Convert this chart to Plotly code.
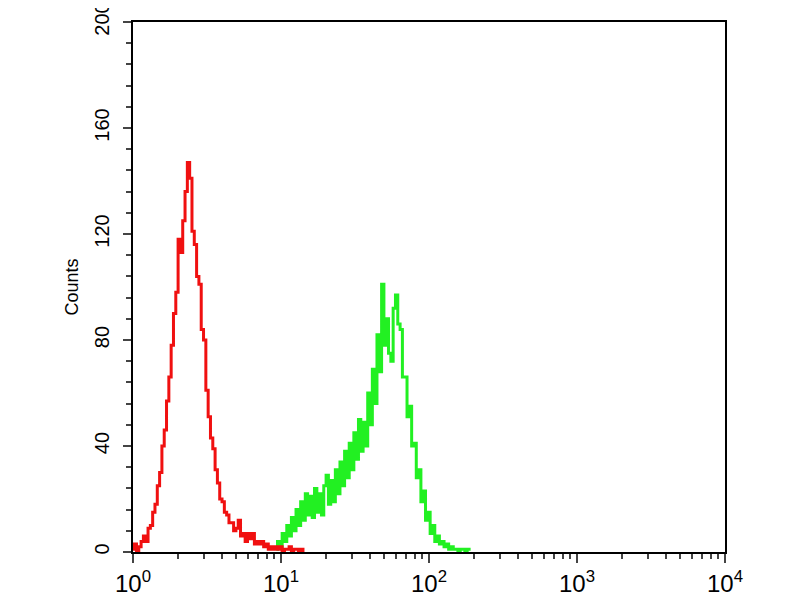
import plotly.graph_objects as go

# log amplifier: 256 channels over 4 decades
CHANNELS_PER_DECADE = 64

RED_FIRST_CHANNEL = 0
RED_COUNTS = [
    1, 3, 0, 2, 4, 6, 4, 9, 10, 15,
    18, 25, 30, 40, 46, 57, 66, 78, 90, 98,
    118, 113, 125, 136, 147, 141, 121, 116, 104, 101,
    84, 80, 61, 51, 43, 39, 31, 26, 20, 19,
    15, 14, 11, 11, 8, 9, 12, 6, 7, 4,
    7, 5, 7, 3, 4, 3, 4, 2, 3, 1,
    2, 1, 2, 1, 2, 0, 1, 1, 2, 0,
    1, 1, 0, 1, 0,
]

GREEN_FIRST_CHANNEL = 62
GREEN_COUNTS = [
    1, 4, 2, 7, 4, 10, 6, 13, 8, 16,
    10, 19, 12, 22, 14, 21, 13, 24, 15, 22,
    14, 25, 29, 18, 27, 19, 31, 22, 34, 25,
    38, 28, 41, 31, 45, 35, 50, 38, 49, 40,
    60, 48, 69, 56, 82, 68, 101, 78, 88, 75,
    72, 92, 97, 86, 84, 66, 66, 51, 55, 40,
    41, 28, 31, 19, 23, 12, 15, 7, 10, 4,
    6, 3, 4, 2, 3, 1, 2, 1, 1, 0,
    1, 1, 0, 1, 1,
]

X_TICKS = [1, 10, 100, 1000, 10000]
X_TICK_TEXT = ["10<sup>0</sup>", "10<sup>1</sup>", "10<sup>2</sup>",
               "10<sup>3</sup>", "10<sup>4</sup>"]
Y_TICKS = [0, 40, 80, 120, 160, 200]


def channel_values(first, counts):
    return [10 ** ((first + i) / CHANNELS_PER_DECADE) for i in range(len(counts))]


fig = go.Figure()
fig.add_trace(go.Scatter(
    x=channel_values(GREEN_FIRST_CHANNEL, GREEN_COUNTS),
    y=GREEN_COUNTS,
    mode="lines",
    line=dict(color="#22f022", width=3, shape="hvh"),
    showlegend=False,
))
fig.add_trace(go.Scatter(
    x=channel_values(RED_FIRST_CHANNEL, RED_COUNTS),
    y=RED_COUNTS,
    mode="lines",
    line=dict(color="#f01010", width=3, shape="hvh"),
    showlegend=False,
))

minor_x = [k * 10 ** d for d in range(4) for k in range(2, 10)]

# page body adds an 8px offset, margins account for it
fig.update_layout(
    width=800,
    height=600,
    margin=dict(l=125, r=83, t=14, b=56),
    paper_bgcolor="white",
    plot_bgcolor="white",
    font=dict(family="Liberation Sans, Arial, sans-serif", color="black"),
    xaxis=dict(
        type="log",
        range=[0, 4],
        automargin=False,
        tickvals=X_TICKS,
        ticktext=X_TICK_TEXT,
        tickfont=dict(size=24),
        ticks="outside",
        ticklen=9,
        tickwidth=2,
        ticklabeloverflow="allow",
        showline=True,
        linewidth=2,
        linecolor="black",
        mirror=True,
        showgrid=False,
        zeroline=False,
        minor=dict(tickmode="array", tickvals=minor_x, ticks="outside",
                   ticklen=5, tickwidth=2, showgrid=False),
    ),
    yaxis=dict(
        range=[0, 200],
        automargin=False,
        tickvals=Y_TICKS,
        tickfont=dict(size=20),
        tickangle=-90,
        ticks="outside",
        ticklen=8,
        tickwidth=2,
        ticklabelstandoff=6,
        ticklabeloverflow="allow",
        showline=True,
        linewidth=2,
        linecolor="black",
        mirror=True,
        showgrid=False,
        zeroline=False,
        minor=dict(dtick=8, ticks="outside", ticklen=5, tickwidth=2,
                   showgrid=False),
        title=dict(text="Counts", font=dict(size=18), standoff=8),
    ),
)

fig.write_html("out.html")
